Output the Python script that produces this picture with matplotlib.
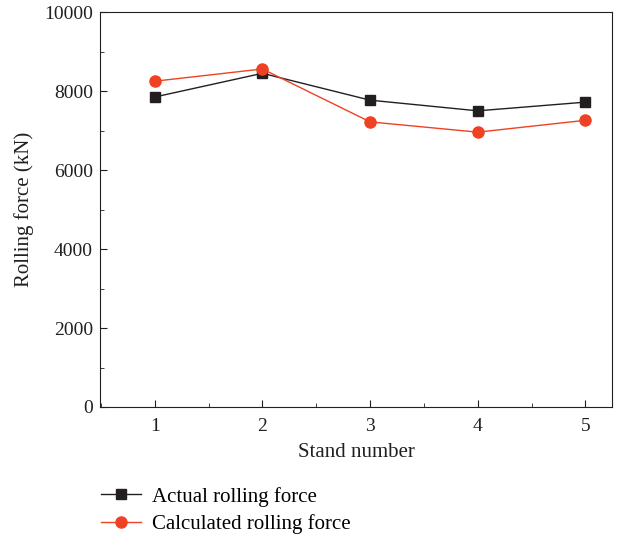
import matplotlib
matplotlib.use('Agg')
import matplotlib.pyplot as plt
from matplotlib.ticker import MultipleLocator

plt.rcParams['font.family'] = ['Liberation Serif', 'DejaVu Serif']

stands = [1, 2, 3, 4, 5]
actual = [7850, 8450, 7770, 7500, 7720]
calculated = [8250, 8560, 7220, 6960, 7260]

BLACK = '#231f20'
RED = '#ef4123'

fig = plt.figure(figsize=(6.28, 5.38), dpi=100)
ax = fig.add_axes([0.159, 0.2435, 0.816, 0.734])

l1, = ax.plot(stands, actual, color=BLACK, lw=1.0, marker='s', ms=7,
              label='Actual rolling force')
l2, = ax.plot(stands, calculated, color=RED, lw=1.0, marker='o', ms=8,
              label='Calculated rolling force')

ax.set_xlim(0.49, 5.25)
ax.set_ylim(0, 10000)
ax.xaxis.set_major_locator(MultipleLocator(1))
ax.xaxis.set_minor_locator(MultipleLocator(0.5))
ax.yaxis.set_major_locator(MultipleLocator(2000))
ax.yaxis.set_minor_locator(MultipleLocator(1000))
ax.tick_params(which='both', direction='in', labelsize=14, colors=BLACK,
               top=False, right=False)
ax.tick_params(which='major', length=5)
ax.tick_params(which='minor', length=3)
ax.tick_params(axis='x', pad=8)
ax.tick_params(axis='y', pad=5)
for s in ax.spines.values():
    s.set_color(BLACK)

ax.set_xlabel('Stand number', fontsize=15, color=BLACK, labelpad=6)
ax.set_ylabel('Rolling force (kN)', fontsize=15, color=BLACK, labelpad=7)

fig.legend(handles=[l1, l2], loc='upper left', bbox_to_anchor=(0.131, 0.13),
           frameon=False, fontsize=15, handlelength=1.9, handletextpad=0.55,
           labelspacing=0.35)

fig.savefig('out.png', dpi=100)
